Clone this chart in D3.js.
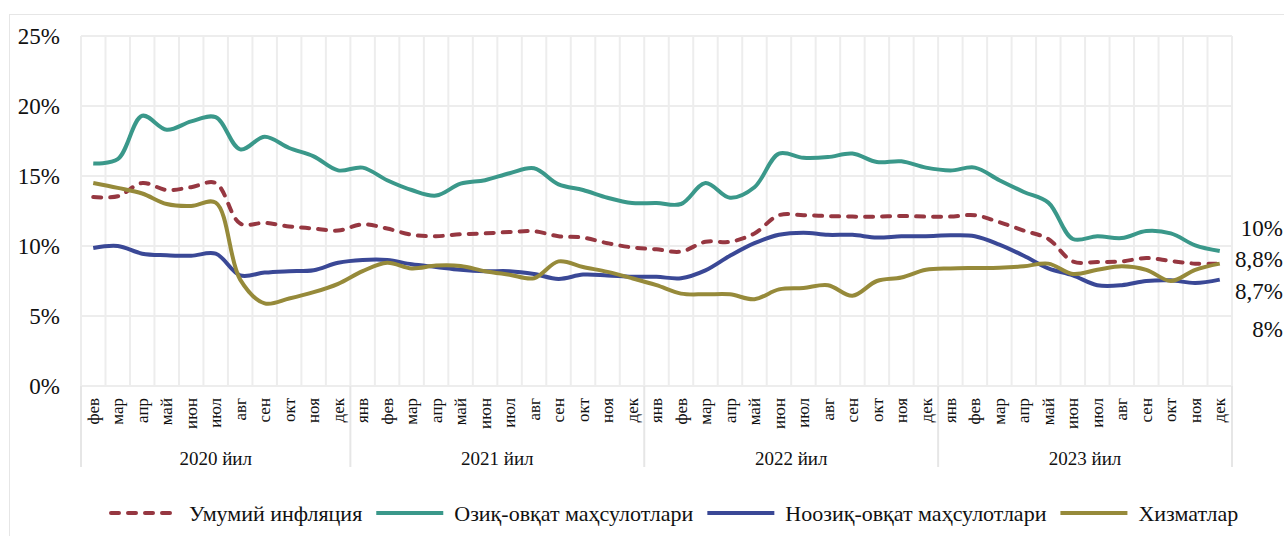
<!DOCTYPE html>
<html>
<head>
<meta charset="utf-8">
<script src="https://cdn.jsdelivr.net/npm/d3@7"></script>
<style>
body{margin:0;background:#fff;}
svg text{font-family:"Liberation Serif","Times New Roman","DejaVu Serif",serif;fill:#111;}
</style>
</head>
<body>
<svg id="chart"></svg>
<script>
// inflation by component, y/y %

var months=["фев","мар","апр","май","июн","июл","авг","сен","окт","ноя","дек",
  "янв","фев","мар","апр","май","июн","июл","авг","сен","окт","ноя","дек",
  "янв","фев","мар","апр","май","июн","июл","авг","сен","окт","ноя","дек",
  "янв","фев","мар","апр","май","июн","июл","авг","сен","окт","ноя","дек"];
var years=["2020 йил","2021 йил","2022 йил","2023 йил"];
var yearStart=[0,11,23,35];

var general=[13.5,13.55,14.5,14.0,14.2,14.5,11.6,11.65,11.4,11.25,11.1,
  11.55,11.25,10.8,10.7,10.84,10.9,11.0,11.05,10.7,10.6,10.2,9.9,
  9.76,9.6,10.3,10.3,10.9,12.2,12.2,12.14,12.1,12.1,12.14,12.1,
  12.1,12.2,11.7,11.1,10.5,8.9,8.86,8.9,9.14,8.93,8.74,8.74];
var food=[15.9,16.2,19.3,18.3,18.9,19.2,16.9,17.8,17.0,16.4,15.4,
  15.6,14.7,14.0,13.6,14.45,14.7,15.2,15.55,14.4,14.0,13.45,13.07,
  13.07,13.0,14.5,13.45,14.2,16.6,16.3,16.35,16.6,16.0,16.05,15.6,
  15.4,15.6,14.7,13.86,13.1,10.5,10.7,10.57,11.07,10.9,10.05,9.64];
var nonfood=[9.86,10.0,9.45,9.34,9.3,9.45,7.9,8.1,8.2,8.27,8.8,
  9.0,9.0,8.7,8.5,8.3,8.2,8.2,8.0,7.65,7.96,7.9,7.8,
  7.8,7.7,8.26,9.3,10.2,10.8,10.95,10.8,10.8,10.6,10.7,10.7,
  10.76,10.7,10.1,9.3,8.4,7.9,7.2,7.2,7.5,7.55,7.36,7.6];
var services=[14.5,14.15,13.75,13.0,12.86,13.1,7.6,5.9,6.25,6.7,7.3,
  8.2,8.8,8.4,8.6,8.57,8.2,7.95,7.7,8.9,8.5,8.15,7.7,
  7.2,6.6,6.55,6.55,6.2,6.9,7.0,7.2,6.45,7.5,7.75,8.3,
  8.4,8.43,8.45,8.55,8.74,8.0,8.3,8.55,8.3,7.5,8.3,8.74];
var seriesNames=["Умумий инфляция","Озиқ-овқат маҳсулотлари","Ноозиқ-овқат маҳсулотлари","Хизматлар"];
var yTicks=[0,5,10,15,20,25];
var endLabels=["10%","8,8%","8,7%","8%"];
var endLabelAt=[11.3,9.1,6.8,4.1];

var series=[
  {name:seriesNames[0],values:general,color:"#963741",dash:"8,9"},
  {name:seriesNames[1],values:food,color:"#3a988a",dash:null},
  {name:seriesNames[2],values:nonfood,color:"#3a4896",dash:null},
  {name:seriesNames[3],values:services,color:"#968a3a",dash:null}
];

var serif="'Liberation Serif','Times New Roman','DejaVu Serif',serif";
var w=1284,h=536;
var svg=d3.select("#chart").attr("width",w).attr("height",h);

svg.append("rect").attr("x",9.5).attr("y",14.5).attr("width",1300).attr("height",600)
  .style("fill","none").style("stroke","#e6e6e6");

var x=d3.scaleBand().domain(d3.range(months.length)).range([81,1232]);
var y=d3.scaleLinear().domain([0,25]).range([386,36]);
var bw=x.bandwidth();

// grid
svg.selectAll(".hgrid").data(yTicks).enter().append("line")
  .attr("x1",81).attr("x2",1232)
  .attr("y1",function(d){return y(d);}).attr("y2",function(d){return y(d);})
  .style("stroke","#ededed").style("stroke-width",2);
svg.selectAll(".vgrid").data(d3.range(months.length+1)).enter().append("line")
  .attr("x1",function(d){return 81+d*bw;}).attr("x2",function(d){return 81+d*bw;})
  .attr("y1",y(25)).attr("y2",y(0))
  .style("stroke","#ededed").style("stroke-width",2);

// year separators under axis
svg.selectAll(".ysep").data(yearStart.concat([months.length])).enter().append("line")
  .attr("x1",function(d){return 81+d*bw;}).attr("x2",function(d){return 81+d*bw;})
  .attr("y1",y(0)).attr("y2",467)
  .style("stroke","#e6e6e6").style("stroke-width",2);

// y axis
var yAxis=svg.append("g").attr("transform","translate(81,0)")
  .call(d3.axisLeft(y).tickValues(yTicks).tickSize(0).tickPadding(21).tickFormat(function(d){return d+"%";}));
yAxis.attr("font-family",null).attr("font-size",null);
yAxis.select(".domain").remove();
yAxis.selectAll("text").style("font-size","23px").style("font-family",serif).attr("fill","#111");

// month labels
svg.selectAll(".mlab").data(months).enter().append("text")
  .attr("transform",function(d,i){return "translate("+(x(i)+bw/2)+",398) rotate(-90)";})
  .attr("text-anchor","end").attr("dy","0.33em")
  .style("font-family",serif).style("font-size","17px")
  .text(function(d){return d;});

// year labels
svg.selectAll(".ylab").data(years).enter().append("text")
  .attr("x",function(d,i){var s=yearStart[i],e=i<3?yearStart[i+1]:months.length;return 81+(s+e)/2*bw;})
  .attr("y",458).attr("dy","0.35em").attr("text-anchor","middle")
  .style("font-family",serif).style("font-size","19px")
  .text(function(d){return d;});

// lines
var line=d3.line().x(function(d,i){return x(i)+bw/2;}).y(function(d){return y(d);})
  .curve(d3.curveCatmullRom.alpha(0.5));
svg.selectAll(".series").data(series).enter().append("path")
  .attr("d",function(d){return line(d.values);})
  .style("fill","none").style("stroke",function(d){return d.color;})
  .style("stroke-width",4).style("stroke-linecap",function(d){return d.dash?"round":"butt";})
  .style("stroke-dasharray",function(d){return d.dash;});

// end labels
svg.selectAll(".elab").data(endLabels).enter().append("text")
  .attr("x",1283).attr("y",function(d,i){return y(endLabelAt[i]);})
  .attr("dy","0.35em").attr("text-anchor","end")
  .style("font-family",serif).style("font-size","23px")
  .text(function(d){return d;});

// legend
var lx=111,ly=513;
series.forEach(function(s){
  svg.append("line").attr("x1",lx).attr("x2",lx+67).attr("y1",ly).attr("y2",ly)
    .style("stroke",s.color).style("stroke-width",4)
    .style("stroke-linecap",s.dash?"round":"butt").style("stroke-dasharray",s.dash);
  var t=svg.append("text").attr("x",lx+78).attr("y",ly).attr("dy","0.35em")
    .style("font-family",serif).style("font-size","22px").text(s.name);
  lx+=78+t.node().getComputedTextLength()+14;
});
</script>
</body>
</html>
